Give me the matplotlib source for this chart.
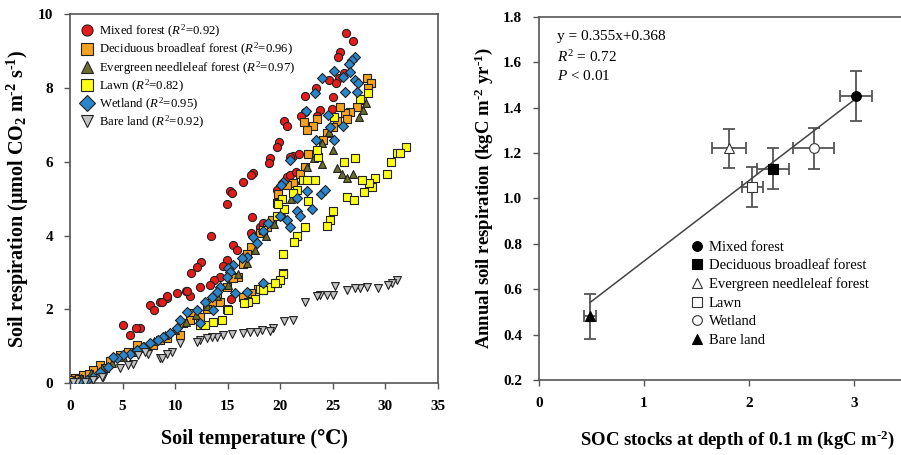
import matplotlib
matplotlib.use("Agg")
import matplotlib.pyplot as plt
from matplotlib.lines import Line2D

plt.rcParams['font.family'] = ['Liberation Serif', 'DejaVu Serif']
plt.rcParams['mathtext.fontset'] = 'custom'
plt.rcParams['mathtext.rm'] = 'Liberation Serif'
plt.rcParams['mathtext.it'] = 'Liberation Serif:italic'
plt.rcParams['mathtext.bf'] = 'Liberation Serif:bold'

# ---- left panel: soil respiration vs soil temperature ----
mixed_t = [26.26, 26.9, 25.69, 25.53, 26.07, 25.63, 24.68, 25.31, 23.41, 22.36, 24.99, 22.36, 23.79,
           24.9, 23.47, 22.01, 20.36, 20.68, 19.92, 19.73, 19.03, 18.91, 17.38, 17.19, 16.43, 15.22,
           15.38, 14.97, 21.25, 21.82, 20.93, 20.62, 20.93, 21.5, 19.67, 17.29, 17.19, 18.08, 18.39,
           15.54, 15.86, 14.91, 14.53, 13.38, 12.44, 12.05, 11.48, 14.27, 13.7, 13.32, 12.37, 11.04,
           11.42, 10.15, 9.26, 8.56, 7.61, 7.99, 15.29, 6.66, 5.07, 5.71, 6.28, 8.72, 9.2, 11.1]
mixed_r = [9.49, 9.28, 8.98, 8.83, 8.41, 8.26, 8.21, 8.12, 7.99, 7.78, 7.76, 7.35, 7.4,
           7.42, 7.24, 7.24, 7.11, 6.96, 6.54, 6.4, 6.11, 5.97, 5.7, 5.65, 5.46, 5.21,
           5.14, 4.85, 6.15, 6.22, 6.13, 5.59, 5.65, 5.73, 5.23, 4.49, 4.07, 4.24, 4.34,
           3.74, 3.6, 3.33, 3.17, 3.98, 3.29, 3.15, 2.99, 2.88, 2.79, 2.66, 2.61, 2.5,
           2.36, 2.43, 2.32, 2.2, 2.11, 1.98, 2.29, 1.48, 1.57, 1.3, 1.48, 2.2, 2.36, 2.5]

decid_t = [28.23, 28.61, 28.38, 27.75, 27.28, 26.64, 26.16, 25.69, 26.32, 25.37, 25.05, 24.42, 24.1,
           23.47, 23.15, 22.52, 22.26, 22.67, 22.36, 21.88, 21.25, 20.62, 19.82, 19.67, 19.19, 18.72,
           18.08, 17.19, 16.81, 16.43, 16.02, 15.54, 14.91, 13.96, 13.48, 13.0, 12.37, 11.67, 11.42,
           10.78, 10.47, 9.2, 8.56, 7.93, 6.98, 6.34, 5.55, 4.76, 3.81, 2.85, 2.22, 1.27, 0.48, 0.2,
           14.27, 14.91, 20.3, 19.03, 18.39, 17.92, 17.19, 16.49, 1.8, 3.3, 0.9]
decid_r = [8.28, 8.12, 7.99, 7.67, 7.49, 7.35, 7.31, 7.47, 7.17, 7.11, 6.95, 6.77, 6.59,
           7.17, 6.96, 6.87, 7.08, 6.22, 5.86, 5.68, 5.43, 5.37, 5.12, 4.87, 4.42, 4.24,
           4.06, 3.69, 3.51, 3.24, 2.88, 2.84, 2.61, 2.34, 2.2, 2.02, 1.8, 1.89, 1.71,
           1.62, 1.3, 1.21, 1.17, 1.03, 0.94, 1.03, 0.85, 0.76, 0.61, 0.49, 0.35, 0.22, 0.13, 0.08,
           2.2, 2.0, 2.99, 2.61, 2.52, 2.54, 2.43, 2.34, 0.25, 0.4, 0.1]

everg_t = [25.37, 25.85, 26.32, 26.96, 23.95, 22.52, 25.05, 28.2, 27.9, 27.5, 24.6, 24.0, 23.2,
           22.0, 21.0, 20.2, 19.4, 18.6, 17.6, 16.8, 16.0, 15.0, 14.0, 13.0, 12.0, 11.0, 10.0,
           9.0, 8.0, 7.0, 6.0, 5.0, 4.0, 3.0, 2.0, 1.0, 0.4]
everg_r = [5.82, 5.68, 5.55, 5.68, 5.95, 5.86, 6.31, 7.58, 7.4, 7.2, 6.8, 6.5, 6.1,
           5.5, 5.0, 4.6, 4.3, 4.0, 3.6, 3.25, 2.95, 2.65, 2.35, 2.1, 1.85, 1.65, 1.45,
           1.3, 1.15, 1.0, 0.85, 0.7, 0.55, 0.4, 0.27, 0.15, 0.05]

lawn_t = [31.97, 31.08, 31.4, 30.51, 30.19, 29.02, 28.7, 27.97, 28.48, 27.75, 27.12, 26.07, 26.39,
          27.02, 25.05, 24.74, 24.42, 22.36, 21.63, 21.31, 22.68, 22.2, 21.57, 21.19, 23.31, 23.62,
          23.47, 25.15, 27.59, 28.38, 20.36, 19.67, 20.14, 19.82, 18.33, 20.24, 19.66, 19.03, 18.08,
          17.6, 16.97, 16.56, 15.0, 14.43, 13.64, 12.37, 18.39, 20.24, 19.98, 19.51, 12.84, 22.52]
lawn_r = [6.4, 6.24, 6.24, 6.0, 5.68, 5.55, 5.32, 5.18, 5.41, 5.5, 6.09, 6.0, 5.05,
          4.96, 4.66, 4.42, 4.25, 4.24, 3.98, 3.83, 4.94, 5.5, 5.24, 5.14, 5.5, 6.13,
          6.31, 7.21, 7.7, 7.87, 4.73, 4.53, 4.98, 4.85, 4.15, 3.51, 2.7, 2.61, 2.54,
          2.29, 2.2, 2.16, 1.98, 1.71, 1.66, 1.57, 2.52, 2.97, 2.79, 2.72, 1.57, 5.5]

wet_t = [27.12, 26.8, 26.49, 25.12, 26.64, 23.95, 23.31, 26.0, 27.12, 27.43, 27.28, 26.16, 22.45,
         23.41, 24.58, 24.74, 26.0, 25.12, 20.93, 20.24, 20.04, 21.63, 22.52, 23.85, 24.26, 23.0,
         21.57, 21.88, 19.98, 20.62, 20.93, 18.87, 18.39, 17.44, 17.76, 16.81, 16.34, 15.54, 15.06,
         15.22, 14.27, 14.91, 13.96, 13.48, 12.84, 12.11, 11.1, 10.47, 10.15, 9.51, 8.88, 8.4,
         7.61, 6.98, 6.34, 5.71, 5.07, 4.44, 4.12, 3.64, 2.85, 2.22, 1.59, 13.64, 12.37, 18.39,
         16.81, 15.7, 0.9, 0.3]
wet_r = [8.84, 8.75, 8.64, 8.46, 8.44, 8.26, 7.85, 8.3, 8.21, 8.12, 7.89, 7.89, 7.38,
         6.59, 7.26, 6.95, 6.96, 6.59, 6.04, 5.46, 5.38, 5.03, 5.21, 5.12, 5.23, 4.73,
         4.67, 4.53, 4.53, 4.42, 4.24, 4.33, 4.13, 3.97, 3.79, 3.42, 3.38, 3.2, 3.11,
         3.02, 2.61, 2.88, 2.47, 2.34, 2.2, 1.98, 1.93, 1.71, 1.48, 1.35, 1.25, 1.17,
         1.08, 0.98, 0.89, 0.8, 0.76, 0.67, 0.71, 0.44, 0.31, 0.17, 0.08, 1.98, 1.64, 2.72,
         2.47, 2.43, 0.05, 0.04]

bare_t = [31.13, 30.6, 30.29, 29.34, 28.23, 27.59, 27.12, 26.39, 25.21, 25.05, 24.42, 23.79, 23.47,
          22.36, 21.25, 20.36, 19.35, 19.03, 18.24, 17.76, 17.13, 16.43, 15.38, 14.59, 13.96, 13.48,
          13.0, 12.37, 12.11, 10.47, 9.67, 9.2, 8.56, 7.45, 6.5, 6.02, 5.55, 4.76, 3.17, 2.22,
          1.43, 0.64, 0.3, 8.72, 7.14, 3.01]
bare_r = [2.79, 2.72, 2.66, 2.59, 2.61, 2.59, 2.57, 2.52, 2.63, 2.38, 2.38, 2.38, 2.36,
          2.2, 1.72, 1.69, 1.48, 1.42, 1.44, 1.39, 1.39, 1.36, 1.33, 1.3, 1.24, 1.24,
          1.21, 1.17, 1.12, 1.08, 0.85, 0.8, 0.67, 0.8, 0.76, 0.53, 0.49, 0.4, 0.17, 0.08,
          0.04, 0.02, 0.02, 0.67, 0.85, 0.17]

# ---- right panel: annual respiration vs SOC stocks ----
types = ['Mixed forest', 'Deciduous broadleaf forest', 'Evergreen needleleaf forest',
         'Lawn', 'Wetland', 'Bare land']
r2_values = ['0.92', '0.96', '0.97', '0.82', '0.95', '0.92']
soc = [3.02, 2.23, 1.81, 2.03, 2.62, 0.49]
soc_err = [0.155, 0.15, 0.165, 0.10, 0.195, 0.055]
annual = [1.45, 1.13, 1.22, 1.05, 1.22, 0.48]
annual_err = [0.11, 0.09, 0.085, 0.09, 0.09, 0.10]
fit_slope = 0.355
fit_icpt = 0.368

fig = plt.figure(figsize=(9.01, 4.55), dpi=100)
ax1 = fig.add_axes([0.0777, 0.158, 0.4084, 0.811])
ax2 = fig.add_axes([0.598, 0.165, 0.408, 0.798])

left_series = [
    (mixed_t, mixed_r, 'o', '#e81b1b', 34),
    (decid_t, decid_r, 's', '#f5a21e', 30),
    (everg_t, everg_r, '^', '#6b6e2c', 32),
    (lawn_t, lawn_r, 's', '#ffff10', 30),
    (wet_t, wet_r, 'D', '#2a86cc', 26),
    (bare_t, bare_r, 'v', '#c4c4c4', 32),
]
handles = []
for (tx, ry, mk, col, sz), name, r2 in zip(left_series, types, r2_values):
    ax1.scatter(tx, ry, marker=mk, s=sz, facecolor=col, edgecolor='#222222', linewidth=0.8, zorder=3)
    handles.append(Line2D([], [], linestyle='none', marker=mk, markersize=8,
                          markerfacecolor=col, markeredgecolor='#222222', markeredgewidth=0.8,
                          label=name + ' ($\\it{R}^2$=' + r2 + ')'))

ax1.set_xlim(0, 35)
ax1.set_ylim(0, 10)
ax1.set_xticks(range(0, 36, 5))
ax1.set_yticks(range(0, 11, 2))
ax1.legend(handles=handles, loc='upper left', frameon=False, fontsize=9.2,
           handletextpad=0.4, labelspacing=0.08, borderaxespad=0.3, handlelength=1.2)
ax1.set_xlabel('Soil temperature (℃)', fontsize=14.5, fontweight='bold', labelpad=12)
ax1.set_ylabel('Soil respiration (μmol CO$_\\mathbf{2}$ m$^{\\mathbf{\\text{-}2}}$ s$^{\\mathbf{\\text{-}1}}$)',
               fontsize=14.5, fontweight='bold', labelpad=5)

# right panel
face = ['black', 'black', 'white', 'white', 'white', 'black']
marks = ['o', 's', '^', 's', 'o', '^']
for i in range(len(types)):
    ax2.errorbar(soc[i], annual[i], xerr=soc_err[i], yerr=annual_err[i], fmt='none',
                 ecolor='#555555', elinewidth=1.3, capsize=4, capthick=1.3, zorder=2)
    ax2.plot(soc[i], annual[i], linestyle='none', marker=marks[i], markersize=7,
             markerfacecolor=face[i], markeredgecolor='#333333' if face[i] == 'white' else 'black',
             markeredgewidth=0.8, zorder=4, label=types[i])
x_fit = [min(soc), max(soc)]
ax2.plot(x_fit, [fit_slope * v + fit_icpt for v in x_fit], color='#444444', linewidth=1.1, zorder=3)
ax2.text(0.05, 0.965, 'y = %.3fx+%.3f' % (fit_slope, fit_icpt), transform=ax2.transAxes,
         fontsize=11, va='top')
ax2.text(0.05, 0.91, '$\\it{R}^2$ = 0.72', transform=ax2.transAxes, fontsize=11, va='top')
ax2.text(0.05, 0.855, '$\\it{P}$ < 0.01', transform=ax2.transAxes, fontsize=11, va='top')
ax2.legend(loc='lower left', bbox_to_anchor=(0.395, 0.075), frameon=False, fontsize=10.5,
           handletextpad=0.3, labelspacing=0.36, handlelength=1.0, borderaxespad=0)

ax2.set_xlim(0, 3.5)
ax2.set_ylim(0.2, 1.8)
ax2.set_xticks([0, 1, 2, 3])
ax2.set_yticks([0.2, 0.4, 0.6, 0.8, 1.0, 1.2, 1.4, 1.6, 1.8])
ax2.set_yticklabels(['%.1f' % v for v in ax2.get_yticks()])
ax2.set_xlabel('SOC stocks at depth of 0.1 m (kgC m$^{\\mathbf{\\text{-}2}}$)', fontsize=13.5,
               fontweight='bold')
ax2.xaxis.set_label_coords(0.54, -0.135)
ax2.set_ylabel('Annual soil respiration (kgC m$^{\\mathbf{\\text{-}2}}$ yr$^{\\mathbf{\\text{-}1}}$)',
               fontsize=13.5, fontweight='bold', labelpad=6)

for ax in (ax1, ax2):
    for sp in ax.spines.values():
        sp.set_color('#555555')
        sp.set_linewidth(1.2)
    ax.tick_params(direction='out', length=4, width=1, color='#555555', labelsize=11, pad=8)
    for lab in ax.get_xticklabels() + ax.get_yticklabels():
        lab.set_fontweight('bold')

fig.savefig('out.png', dpi=100)
